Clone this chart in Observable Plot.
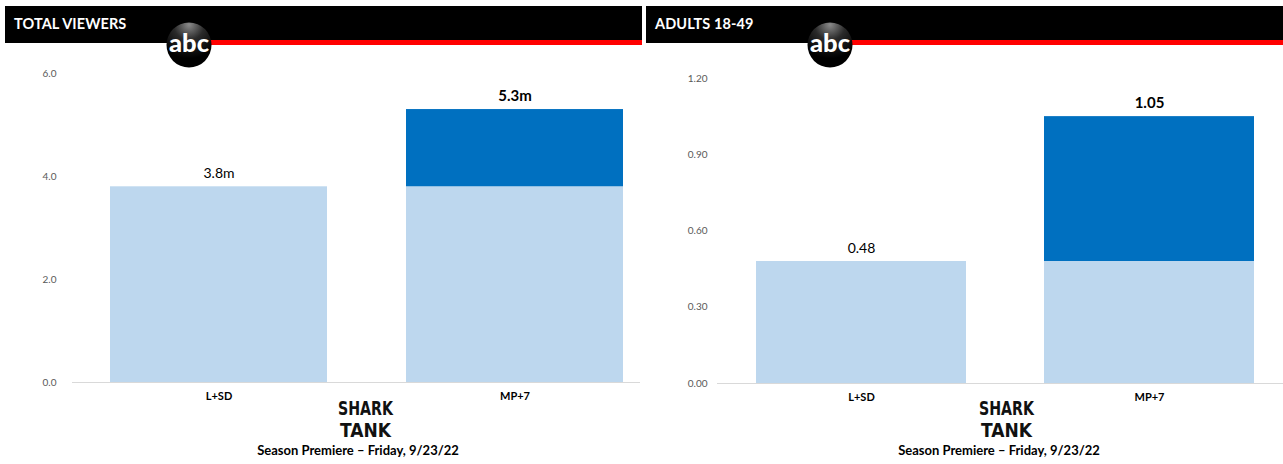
<!DOCTYPE html>
<html><head><meta charset="utf-8">
<script src="https://cdn.jsdelivr.net/npm/d3@7"></script>
<script src="https://cdn.jsdelivr.net/npm/@observablehq/plot@0.6"></script>
<style>
body{margin:0;background:#fff;font-family:Lato,"Open Sans",sans-serif;}
#root{position:relative;width:1283px;height:464px;overflow:hidden;background:#fff;}
.panel{position:absolute;top:0;width:642px;height:464px;}
.panel > svg{position:absolute;left:0;top:0;overflow:visible;}
.hdr{position:absolute;left:5px;top:6px;width:637px;height:37px;background:#000;}
.red{position:absolute;left:170px;top:40px;width:472px;height:5px;background:#f00;}
.ttl{position:absolute;left:14px;top:15px;color:#fff;font:bold 14.5px Lato,sans-serif;letter-spacing:0.1px;}
.deco{position:absolute;left:0;top:0;width:642px;height:464px;}
</style></head>
<body><div id="root"></div>
<script>
// ---- data ----
const categories = ["L+SD", "MP+7"];
const viewersLive = [3.8, 3.8];
const viewersLift = [0, 1.5];
const viewersTotal = [3.8, 5.3];
const viewersLabels = ["3.8m", "5.3m"];
const viewersTicks = [0, 2, 4, 6];
const demoLive = [0.48, 0.48];
const demoLift = [0, 0.57];
const demoTotal = [0.48, 1.05];
const demoLabels = ["0.48", "1.05"];
const demoTicks = [0, 0.3, 0.6, 0.9, 1.2];
const panelTitles = ["TOTAL VIEWERS", "ADULTS 18-49"];
const showName = ["SHARK", "TANK"];
const footnote = "Season Premiere – Friday, 9/23/22";
const partNames = ["live", "lift"];
const partColors = ["#bdd7ee", "#0070c0"];

function makeChart(cfg) {
  const rows = categories.flatMap((c, i) => [
    {cat: c, part: "live", value: cfg.live[i]},
    {cat: c, part: "lift", value: cfg.lift[i]}
  ]).filter(d => d.value > 0);
  const totals = categories.map((c, i) => ({cat: c, total: cfg.total[i], label: cfg.labels[i], i}));
  return Plot.plot({
    width: 642, height: 420,
    marginLeft: cfg.ml, marginRight: cfg.mr, marginTop: cfg.mt, marginBottom: cfg.mb,
    style: {fontFamily: "Lato, sans-serif", background: "transparent", overflow: "visible"},
    x: {domain: categories, range: cfg.xr, paddingInner: cfg.pi, paddingOuter: cfg.po},
    y: {domain: cfg.ydom},
    color: {domain: partNames, range: partColors},
    marks: [
      Plot.ruleY([0], {stroke: "#d9d9d9", strokeWidth: 1}),
      Plot.barY(rows, {x: "cat", y: "value", fill: "part"}),
      Plot.text(totals.filter(d => d.i === 0), {x: "cat", y: "total", text: "label", dy: -13, fontSize: 14, fill: "#000"}),
      Plot.text(totals.filter(d => d.i === 1), {x: "cat", y: "total", text: "label", dy: -13, fontSize: 15, fontWeight: "bold", fill: "#000"}),
      Plot.axisY({ticks: cfg.ticks, tickFormat: d3.format(cfg.fmt), tickSize: 0, tickPadding: cfg.tp, fontSize: 10, color: "#595959", label: null}),
      Plot.axisX({tickSize: 0, tickPadding: 10, fontSize: 11, fontWeight: "bold", color: "#000", label: null})
    ]
  });
}

const cfgs = [
  {live: viewersLive, lift: viewersLift, total: viewersTotal, labels: viewersLabels, ticks: viewersTicks, fmt: ".1f",
   ydom: [0, 6], ml: 72, mr: 2, mt: 73, mb: 38, tp: 16, xr: [70.3, 662.7], pi: 0.268, po: 0.134},
  {live: demoLive, lift: demoLift, total: demoTotal, labels: demoLabels, ticks: demoTicks, fmt: ".2f",
   ydom: [0, 1.2], ml: 76, mr: 0, mt: 78, mb: 37, tp: 10, xr: [76, 653], pi: 0.27, po: 0.135}
];

const root = document.getElementById("root");
cfgs.forEach((cfg, k) => {
  const panel = document.createElement("div");
  panel.className = "panel";
  panel.style.left = (k * 641) + "px";
  panel.appendChild(makeChart(cfg));
  const hdr = document.createElement("div"); hdr.className = "hdr"; panel.appendChild(hdr);
  const red = document.createElement("div"); red.className = "red"; panel.appendChild(red);
  const ttl = document.createElement("div"); ttl.className = "ttl"; ttl.textContent = panelTitles[k]; panel.appendChild(ttl);
  const ns = "http://www.w3.org/2000/svg";
  const deco = document.createElementNS(ns, "svg");
  deco.setAttribute("class", "deco");
  deco.setAttribute("width", 642); deco.setAttribute("height", 464);
  deco.innerHTML = `
    <defs><radialGradient id="g${k}" cx="0.5" cy="0.05" r="0.75">
      <stop offset="0" stop-color="#8a8a8a"/><stop offset="0.45" stop-color="#2a2a2a"/><stop offset="1" stop-color="#000"/>
    </radialGradient></defs>
    <circle cx="189" cy="45" r="22.5" fill="url(#g${k})"/>
    <text x="189" y="52" text-anchor="middle" fill="#fff" font-family="Lato" font-weight="900" font-size="24" textLength="40" lengthAdjust="spacingAndGlyphs">abc</text>
    <text x="365.5" y="415" text-anchor="middle" fill="#111" font-family="DejaVu Sans Condensed" font-weight="bold" font-size="19" textLength="55" lengthAdjust="spacingAndGlyphs">${showName[0]}</text>
    <text x="365.5" y="437" text-anchor="middle" fill="#111" font-family="DejaVu Sans Condensed" font-weight="bold" font-size="19" textLength="51" lengthAdjust="spacingAndGlyphs">${showName[1]}</text>
    <text x="358" y="455" text-anchor="middle" fill="#000" font-family="Lato" font-weight="bold" font-size="13">${footnote}</text>`;
  panel.appendChild(deco);
  root.appendChild(panel);
});
</script></body></html>
